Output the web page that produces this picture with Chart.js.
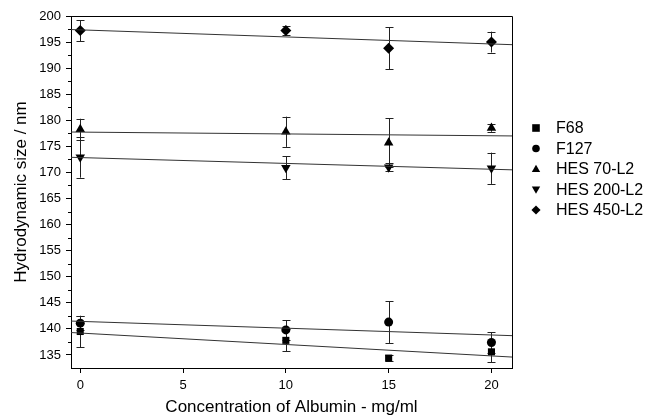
<!DOCTYPE html>
<html>
<head>
<meta charset="utf-8">
<script src="https://cdn.jsdelivr.net/npm/chart.js@4/dist/chart.umd.min.js"></script>
<style>
  html, body { margin: 0; padding: 0; background: #fff; }
  #wrap { width: 654px; height: 420px; position: relative; }
</style>
</head>
<body>
<div id="wrap"><canvas id="chart"></canvas></div>
<script>
// Data
const concentrations = [0, 10, 15, 20];
const xTickValues = [0, 5, 10, 15, 20];
const yTickValues = [135, 140, 145, 150, 155, 160, 165, 170, 175, 180, 185, 190, 195, 200];

const seriesLabels = ['F68', 'F127', 'HES 70-L2', 'HES 200-L2', 'HES 450-L2'];

const f68Values = [139.5, 137.8, 134.4, 135.6];
const f68Errors = [3.0, 2.1, 0.5, 2.0];
const f127Values = [141.1, 139.8, 141.3, 137.4];
const f127Errors = [1.4, 1.9, 4.0, 2.0];
const hes70Values = [178.3, 177.8, 175.7, 178.5];
const hes70Errors = [2.0, 2.9, 4.7, 0.7];
const hes200Values = [172.9, 170.9, 171.0, 170.8];
const hes200Errors = [3.9, 2.2, 0.8, 3.0];
const hes450Values = [197.2, 197.2, 193.8, 195.0];
const hes450Errors = [2.0, 0.9, 4.0, 2.0];

// Linear fit lines, value at each end of the x range
const fitX = [-0.45, 21];
const fitStart = [139.3, 141.5, 177.75, 172.9, 197.4];
const fitEnd = [134.6, 138.7, 177.0, 170.5, 194.5];

const allValues = [f68Values, f127Values, hes70Values, hes200Values, hes450Values];
const allErrors = [f68Errors, f127Errors, hes70Errors, hes200Errors, hes450Errors];
const markerStyles = [
    { pointStyle: 'rect', radius: 5, rotation: 0 },
    { pointStyle: 'circle', radius: 4.5, rotation: 0 },
    { pointStyle: 'triangle', radius: 5.5, rotation: 0 },
    { pointStyle: 'triangle', radius: 5.5, rotation: 180 },
    { pointStyle: 'rectRot', radius: 5.5, rotation: 0 }
];

const FONT = "'Liberation Sans', Arial, Helvetica, sans-serif";

// Build datasets: fit lines first, then markers
const datasets = [];
seriesLabels.forEach((label, s) => {
    datasets.push({
        type: 'line',
        label: label + ' fit',
        data: [{ x: fitX[0], y: fitStart[s] }, { x: fitX[1], y: fitEnd[s] }],
        borderColor: '#333',
        borderWidth: 1,
        pointRadius: 0,
        fill: false,
        showLine: true
    });
});
seriesLabels.forEach((label, s) => {
    datasets.push({
        type: 'scatter',
        label: label,
        data: concentrations.map((c, i) => ({ x: c, y: allValues[s][i] })),
        errors: allErrors[s],
        backgroundColor: '#000',
        borderColor: '#000',
        borderWidth: 0,
        pointStyle: markerStyles[s].pointStyle,
        pointRadius: markerStyles[s].radius,
        pointRotation: markerStyles[s].rotation,
        showLine: false
    });
});

// Error bars drawn under the markers
const errorBarPlugin = {
    id: 'errorBars',
    beforeDatasetsDraw(chart) {
        const { ctx, scales: { x, y } } = chart;
        ctx.save();
        ctx.strokeStyle = '#222';
        ctx.lineWidth = 1;
        chart.data.datasets.forEach(ds => {
            if (!ds.errors) return;
            ds.data.forEach((p, i) => {
                const px = Math.round(x.getPixelForValue(p.x)) + 0.5;
                const top = y.getPixelForValue(p.y + ds.errors[i]);
                const bot = y.getPixelForValue(p.y - ds.errors[i]);
                ctx.beginPath();
                ctx.moveTo(px, top);
                ctx.lineTo(px, bot);
                ctx.moveTo(px - 4, Math.round(top) + 0.5);
                ctx.lineTo(px + 4, Math.round(top) + 0.5);
                ctx.moveTo(px - 4, Math.round(bot) + 0.5);
                ctx.lineTo(px + 4, Math.round(bot) + 0.5);
                ctx.stroke();
            });
        });
        ctx.restore();
    }
};

// Frame on top/right, minor ticks on y, and the legend
function drawMarker(ctx, style, cx, cy, r) {
    ctx.beginPath();
    if (style === 0) {
        ctx.rect(cx - r, cy - r, 2 * r, 2 * r);
    } else if (style === 1) {
        ctx.arc(cx, cy, r, 0, Math.PI * 2);
    } else if (style === 2) {
        ctx.moveTo(cx, cy - r * 1.1);
        ctx.lineTo(cx + r * 1.1, cy + r * 0.8);
        ctx.lineTo(cx - r * 1.1, cy + r * 0.8);
    } else if (style === 3) {
        ctx.moveTo(cx, cy + r * 1.1);
        ctx.lineTo(cx + r * 1.1, cy - r * 0.8);
        ctx.lineTo(cx - r * 1.1, cy - r * 0.8);
    } else {
        ctx.moveTo(cx, cy - r * 1.2);
        ctx.lineTo(cx + r * 1.2, cy);
        ctx.lineTo(cx, cy + r * 1.2);
        ctx.lineTo(cx - r * 1.2, cy);
    }
    ctx.closePath();
    ctx.fill();
}

const framePlugin = {
    id: 'frame',
    afterDraw(chart) {
        const { ctx, chartArea: a, scales: { y } } = chart;
        ctx.save();
        ctx.strokeStyle = '#000';
        ctx.lineWidth = 1;
        ctx.beginPath();
        ctx.moveTo(a.left, a.top + 0.5);
        ctx.lineTo(a.right + 0.5, a.top + 0.5);
        ctx.lineTo(a.right + 0.5, a.bottom);
        ctx.stroke();

        // minor ticks between labelled ones
        ctx.beginPath();
        yTickValues.forEach(v => {
            const py = Math.round(y.getPixelForValue(v - 2.5)) + 0.5;
            if (py > a.bottom) return;
            ctx.moveTo(a.left - 3, py);
            ctx.lineTo(a.left, py);
        });
        ctx.stroke();

        // legend
        ctx.fillStyle = '#000';
        ctx.font = '16px ' + FONT;
        ctx.textBaseline = 'middle';
        seriesLabels.forEach((label, s) => {
            const ly = 128 + s * 20.5;
            drawMarker(ctx, s, 536, ly, 3.8);
            ctx.fillText(label, 556, ly + 1);
        });
        ctx.restore();
    }
};

document.addEventListener('DOMContentLoaded', function() {
    const ctx = document.getElementById('chart').getContext('2d');
    new Chart(ctx, {
        data: { datasets: datasets },
        plugins: [errorBarPlugin, framePlugin],
        options: {
            responsive: true,
            maintainAspectRatio: false,
            animation: false,
            layout: { padding: { top: 16, right: 142, left: 0, bottom: 0 } },
            plugins: {
                legend: { display: false },
                tooltip: { enabled: false }
            },
            scales: {
                x: {
                    type: 'linear',
                    min: -0.45,
                    max: 21,
                    afterFit(scale) { scale.height = 52; },
                    afterBuildTicks(scale) { scale.ticks = xTickValues.map(v => ({ value: v })); },
                    grid: { drawOnChartArea: false, drawTicks: true, tickLength: 5, color: '#000' },
                    border: { display: true, color: '#000', width: 1 },
                    ticks: { color: '#000', padding: 5, font: { family: FONT, size: 13 }, maxRotation: 0 },
                    title: {
                        display: true,
                        text: 'Concentration of Albumin - mg/ml',
                        color: '#000',
                        font: { family: FONT, size: 17 },
                        padding: { top: 0, bottom: 2 }
                    }
                },
                y: {
                    type: 'linear',
                    min: 132.5,
                    max: 200,
                    afterFit(scale) { scale.width = 71; },
                    afterBuildTicks(scale) { scale.ticks = yTickValues.map(v => ({ value: v })); },
                    grid: { drawOnChartArea: false, drawTicks: true, tickLength: 5, color: '#000' },
                    border: { display: true, color: '#000', width: 1 },
                    ticks: { color: '#000', padding: 5, font: { family: FONT, size: 13 } },
                    title: {
                        display: true,
                        text: 'Hydrodynamic size / nm',
                        color: '#000',
                        font: { family: FONT, size: 17 },
                        padding: { top: 11, bottom: 0 }
                    }
                }
            }
        }
    });
});
</script>
</body>
</html>
